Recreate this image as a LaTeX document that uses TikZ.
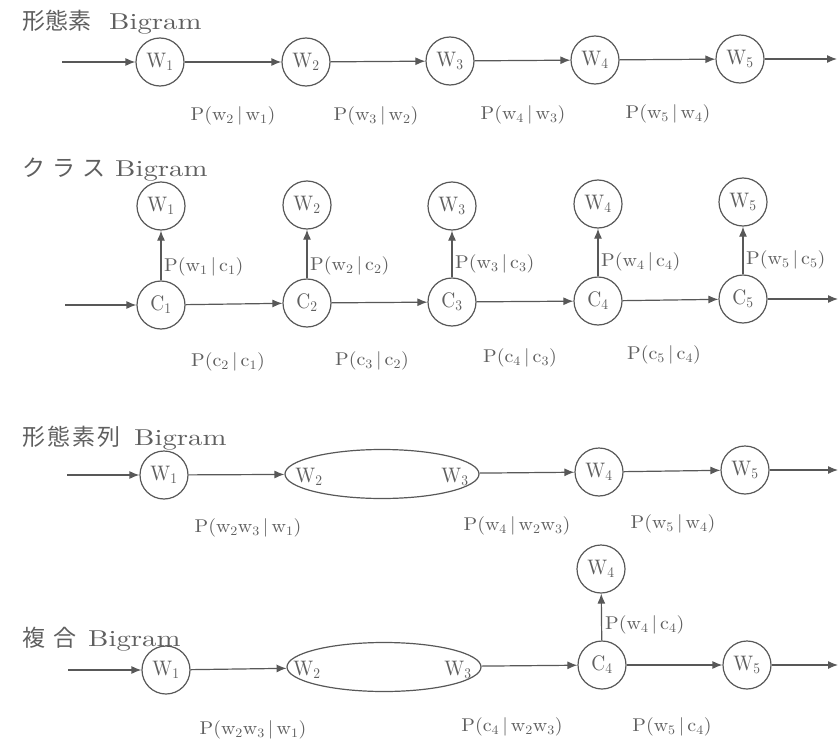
\documentclass[tikz,border=0pt]{standalone}
\usepackage{fontspec}
\usetikzlibrary{arrows.meta,shapes.geometric}
\newfontfamily\jp{Noto Sans CJK JP}
\newfontfamily\wlm{lmroman10-regular}[Extension=.otf,FakeStretch=1.25]
\newfontfamily\llm{lmroman10-regular}[Extension=.otf,FakeStretch=1.08]
\newfontfamily\nlm{lmroman10-regular}[Extension=.otf,FakeStretch=0.92]
\definecolor{ink}{RGB}{88,88,88}
\definecolor{txt}{RGB}{95,95,95}
\tikzset{
  every node/.style={text=txt},
  wnode/.style={circle,draw=ink,line width=1.2pt,minimum size=48pt,inner sep=0pt,font=\nlm\fontsize{21}{21}\selectfont},
  wellipse/.style={ellipse,draw=ink,line width=1.2pt,minimum width=194pt,minimum height=49pt,inner sep=0pt},
  etext/.style={inner sep=0pt,font=\nlm\fontsize{21}{21}\selectfont},
  plabel/.style={inner sep=0pt,font=\llm\fontsize{18.5}{18.5}\selectfont},
  ttl/.style={anchor=base west,inner sep=0pt,font=\fontsize{23}{23}\selectfont},
  conn/.style={draw=ink,line width=1.2pt,-{Latex[length=10pt,width=8pt]}}
}
\newcommand{\Wn}[1]{W\textsubscript{#1}}
\newcommand{\Cn}[1]{C\textsubscript{#1}}
\newcommand{\Pl}[2]{P(#1\,|\,#2)}
\newcommand{\sbs}[1]{\textsubscript{#1}}
\begin{document}
\begin{tikzpicture}[x=1pt,y=-1pt]
\useasboundingbox (0,0) rectangle (839,744);
% ---------- Row 1 ----------
\node[ttl] (t1) at (22,30) {{\jp 形態素}\hspace{18pt}{\wlm Bigram}};
\coordinate (s1) at (62,62);
\node[wnode] (a1) at (160,62) {\Wn{1}};
\node[wnode] (a2) at (306,62) {\Wn{2}};
\node[wnode] (a3) at (450,61) {\Wn{3}};
\node[wnode] (a4) at (595,60) {\Wn{4}};
\node[wnode] (a5) at (740,59) {\Wn{5}};
\coordinate (e1) at (837,59);
\draw[conn] (s1) -- (a1);
\draw[conn] (a1) -- (a2);
\draw[conn] (a2) -- (a3);
\draw[conn] (a3) -- (a4);
\draw[conn] (a4) -- (a5);
\draw[conn] (a5) -- (e1);
\node[plabel] (la1) at (233,116) {\Pl{w\sbs{2}}{w\sbs{1}}};
\node[plabel] (la2) at (376,116) {\Pl{w\sbs{3}}{w\sbs{2}}};
\node[plabel] (la3) at (523,115) {\Pl{w\sbs{4}}{w\sbs{3}}};
\node[plabel] (la4) at (668,114) {\Pl{w\sbs{5}}{w\sbs{4}}};
% ---------- Row 2 ----------
\node[ttl] (t2) at (22,176) {{\jp ク\hspace{7pt}ラ\hspace{7pt}ス}\hspace{10pt}{\wlm Bigram}};
\coordinate (s2) at (65,305);
\node[wnode] (c1) at (161,305) {\Cn{1}};
\node[wnode] (c2) at (307,303) {\Cn{2}};
\node[wnode] (c3) at (452,302) {\Cn{3}};
\node[wnode] (c4) at (598,301) {\Cn{4}};
\node[wnode] (c5) at (743,299) {\Cn{5}};
\coordinate (e2) at (838,299);
\node[wnode] (b1) at (161,206) {\Wn{1}};
\node[wnode] (b2) at (307,205) {\Wn{2}};
\node[wnode] (b3) at (452,206) {\Wn{3}};
\node[wnode] (b4) at (598,204) {\Wn{4}};
\node[wnode] (b5) at (743,202) {\Wn{5}};
\draw[conn] (s2) -- (c1);
\draw[conn] (c1) -- (c2);
\draw[conn] (c2) -- (c3);
\draw[conn] (c3) -- (c4);
\draw[conn] (c4) -- (c5);
\draw[conn] (c5) -- (e2);
\foreach \i in {1,...,5} {\draw[conn] (c\i) -- (b\i);}
\node[plabel,anchor=west] (lb1) at (164,267) {\Pl{w\sbs{1}}{c\sbs{1}}};
\node[plabel,anchor=west] (lb2) at (310,266) {\Pl{w\sbs{2}}{c\sbs{2}}};
\node[plabel,anchor=west] (lb3) at (455,264) {\Pl{w\sbs{3}}{c\sbs{3}}};
\node[plabel,anchor=west] (lb4) at (601,262) {\Pl{w\sbs{4}}{c\sbs{4}}};
\node[plabel,anchor=west] (lb5) at (746,260) {\Pl{w\sbs{5}}{c\sbs{5}}};
\node[plabel] (lc1) at (228,362) {\Pl{c\sbs{2}}{c\sbs{1}}};
\node[plabel] (lc2) at (372,361) {\Pl{c\sbs{3}}{c\sbs{2}}};
\node[plabel] (lc3) at (520,358) {\Pl{c\sbs{4}}{c\sbs{3}}};
\node[plabel] (lc4) at (664,355) {\Pl{c\sbs{5}}{c\sbs{4}}};
% ---------- Row 3 ----------
\node[ttl] (t3) at (22,445) {{\jp 形\hspace{2pt}態\hspace{2pt}素\hspace{2pt}列}\hspace{14pt}{\wlm Bigram}};
\coordinate (s3) at (67,475);
\node[wnode] (d1) at (164,475) {\Wn{1}};
\node[wellipse] (d23) at (382,474) {};
\node[etext] (d2t) at (309,477) {\Wn{2}};
\node[etext] (d3t) at (455,477) {\Wn{3}};
\node[wnode] (d4) at (599,472) {\Wn{4}};
\node[wnode] (d5) at (745,470) {\Wn{5}};
\coordinate (e3) at (838,470);
\draw[conn] (s3) -- (d1);
\draw[conn] (d1) -- (d23);
\draw[conn] (d23) -- (d4);
\draw[conn] (d4) -- (d5);
\draw[conn] (d5) -- (e3);
\node[plabel] (ld1) at (248,528) {\Pl{w\sbs{2}w\sbs{3}}{w\sbs{1}}};
\node[plabel] (ld2) at (517,526) {\Pl{w\sbs{4}}{w\sbs{2}w\sbs{3}}};
\node[plabel] (ld3) at (673,524) {\Pl{w\sbs{5}}{w\sbs{4}}};
% ---------- Row 4 ----------
\node[ttl] (t4) at (22,646) {{\jp 複\hspace{8pt}合}\hspace{12pt}{\wlm Bigram}};
\coordinate (s4) at (68,670);
\node[wnode] (f1) at (166,670) {\Wn{1}};
\node[wellipse] (f23) at (384,667) {};
\node[etext] (f2t) at (307,670) {\Wn{2}};
\node[etext] (f3t) at (458,670) {\Wn{3}};
\node[wnode] (f4) at (602,665) {\Cn{4}};
\node[wnode] (fw) at (601,569) {\Wn{4}};
\node[wnode] (f5) at (747,665) {\Wn{5}};
\coordinate (e4) at (838,665);
\draw[conn] (s4) -- (f1);
\draw[conn] (f1) -- (f23);
\draw[conn] (f23) -- (f4);
\draw[conn] (f4) -- (f5);
\draw[conn] (f5) -- (e4);
\draw[conn] (f4) -- (fw);
\node[plabel,anchor=west] (lf0) at (605,625) {\Pl{w\sbs{4}}{c\sbs{4}}};
\node[plabel] (lf1) at (253,730) {\Pl{w\sbs{2}w\sbs{3}}{w\sbs{1}}};
\node[plabel] (lf2) at (512,727) {\Pl{c\sbs{4}}{w\sbs{2}w\sbs{3}}};
\node[plabel] (lf3) at (672,727) {\Pl{w\sbs{5}}{c\sbs{4}}};
\end{tikzpicture}
\end{document}
